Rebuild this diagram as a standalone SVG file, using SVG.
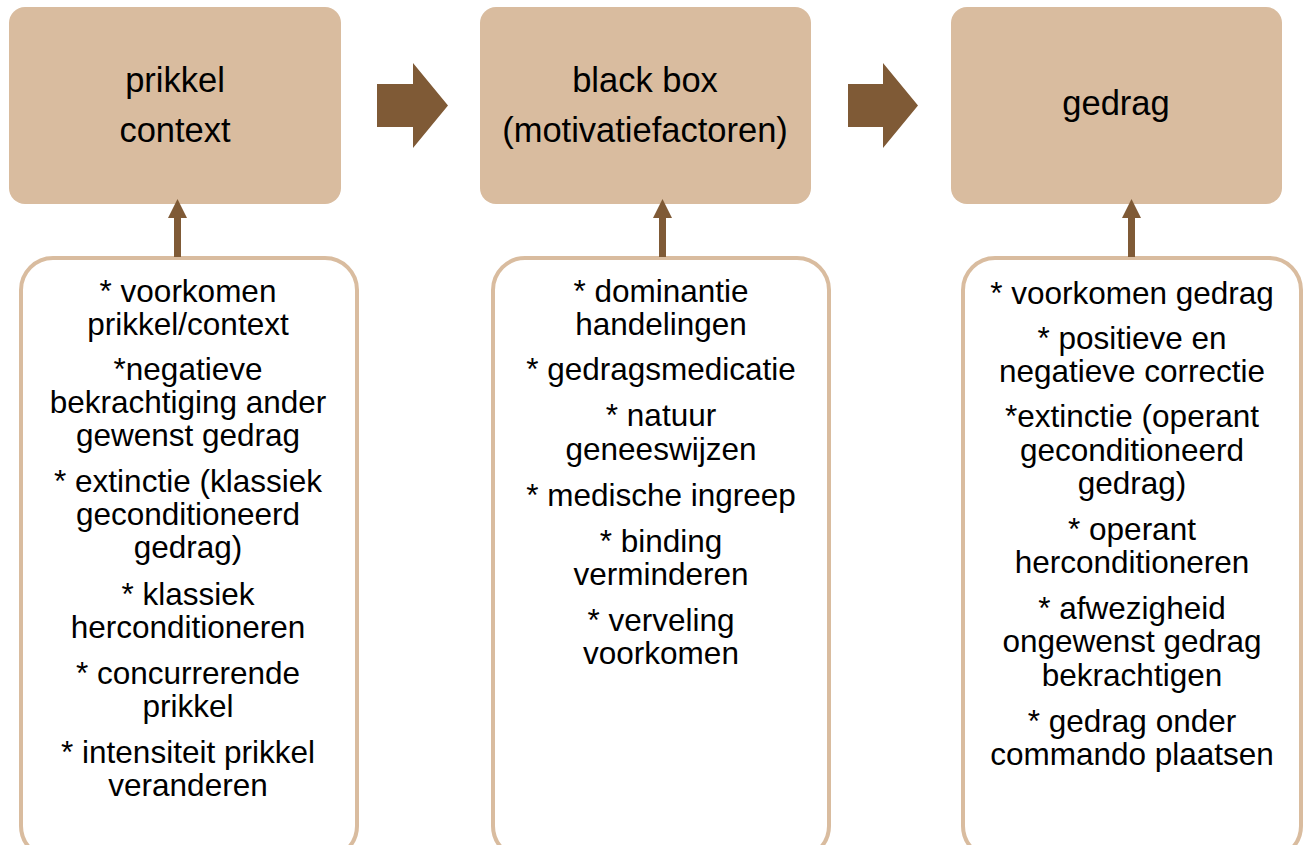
<svg xmlns="http://www.w3.org/2000/svg" width="1306" height="845" viewBox="0 0 1306 845">
<defs>
<style>
.top{fill:#D9BC9F;}
.list{fill:#FFFFFF;stroke:#D9BC9F;stroke-width:4;}
.conn{fill:#7F5A36;}
.t{font-family:"Liberation Sans",Arial,sans-serif;fill:#000000;text-anchor:middle;}
.tt{font-size:34.5px;}
.lt{font-size:31.5px;}
</style>
</defs>
<rect width="1306" height="845" fill="#FFFFFF"/>
<g id="node-prikkel">
<rect class="top" x="9" y="7" width="332" height="197" rx="16"/>
<text class="t tt" x="175" y="92">prikkel</text>
<text class="t tt" x="175" y="142">context</text>
</g>
<g id="node-blackbox">
<rect class="top" x="480" y="7" width="331" height="197" rx="16"/>
<text class="t tt" x="645" y="92">black box</text>
<text class="t tt" x="645" y="142">(motivatiefactoren)</text>
</g>
<g id="node-gedrag">
<rect class="top" x="951" y="7" width="331" height="197" rx="16"/>
<text class="t tt" x="1116" y="115">gedrag</text>
</g>
<g id="list-prikkel">
<rect class="list" x="21" y="258" width="336" height="600" rx="32"/>
<g class="t lt">
<text x="188" y="302">* voorkomen</text>
<text x="188" y="335">prikkel/context</text>
<text x="188" y="380">*negatieve</text>
<text x="188" y="413">bekrachtiging ander</text>
<text x="188" y="446">gewenst gedrag</text>
<text x="188" y="492">* extinctie (klassiek</text>
<text x="188" y="525">geconditioneerd</text>
<text x="188" y="558">gedrag)</text>
<text x="188" y="605">* klassiek</text>
<text x="188" y="638">herconditioneren</text>
<text x="188" y="684">* concurrerende</text>
<text x="188" y="717">prikkel</text>
<text x="188" y="763">* intensiteit prikkel</text>
<text x="188" y="796">veranderen</text>
</g>
</g>
<g id="list-blackbox">
<rect class="list" x="493" y="258" width="336" height="600" rx="32"/>
<g class="t lt">
<text x="661" y="302">* dominantie</text>
<text x="661" y="335">handelingen</text>
<text x="661" y="380">* gedragsmedicatie</text>
<text x="661" y="426">* natuur</text>
<text x="661" y="460">geneeswijzen</text>
<text x="661" y="506">* medische ingreep</text>
<text x="661" y="552">* binding</text>
<text x="661" y="585">verminderen</text>
<text x="661" y="631">* verveling</text>
<text x="661" y="664">voorkomen</text>
</g>
</g>
<g id="list-gedrag">
<rect class="list" x="963" y="258" width="338" height="600" rx="32"/>
<g class="t lt">
<text x="1132" y="304">* voorkomen gedrag</text>
<text x="1132" y="349">* positieve en</text>
<text x="1132" y="382">negatieve correctie</text>
<text x="1132" y="427">*extinctie (operant</text>
<text x="1132" y="461">geconditioneerd</text>
<text x="1132" y="494">gedrag)</text>
<text x="1132" y="540">* operant</text>
<text x="1132" y="573">herconditioneren</text>
<text x="1132" y="619">* afwezigheid</text>
<text x="1132" y="652">ongewenst gedrag</text>
<text x="1132" y="686">bekrachtigen</text>
<text x="1132" y="732">* gedrag onder</text>
<text x="1132" y="765">commando plaatsen</text>
</g>
</g>
<g id="connectors">
<path class="conn" d="M377,84 H413 V63 L448,105.5 L413,148 V127 H377 Z"/>
<path class="conn" d="M848,84 H883 V63 L918,105.5 L883,148 V127 H848 Z"/>
<path class="conn" d="M174,257 V218 H168 L177.5,199 L187,218 H181 V257 Z"/>
<path class="conn" d="M659,257 V218 H653 L662.5,199 L672,218 H666 V257 Z"/>
<path class="conn" d="M1128,257 V218 H1122 L1131.5,199 L1141,218 H1135 V257 Z"/>
</g>
</svg>
